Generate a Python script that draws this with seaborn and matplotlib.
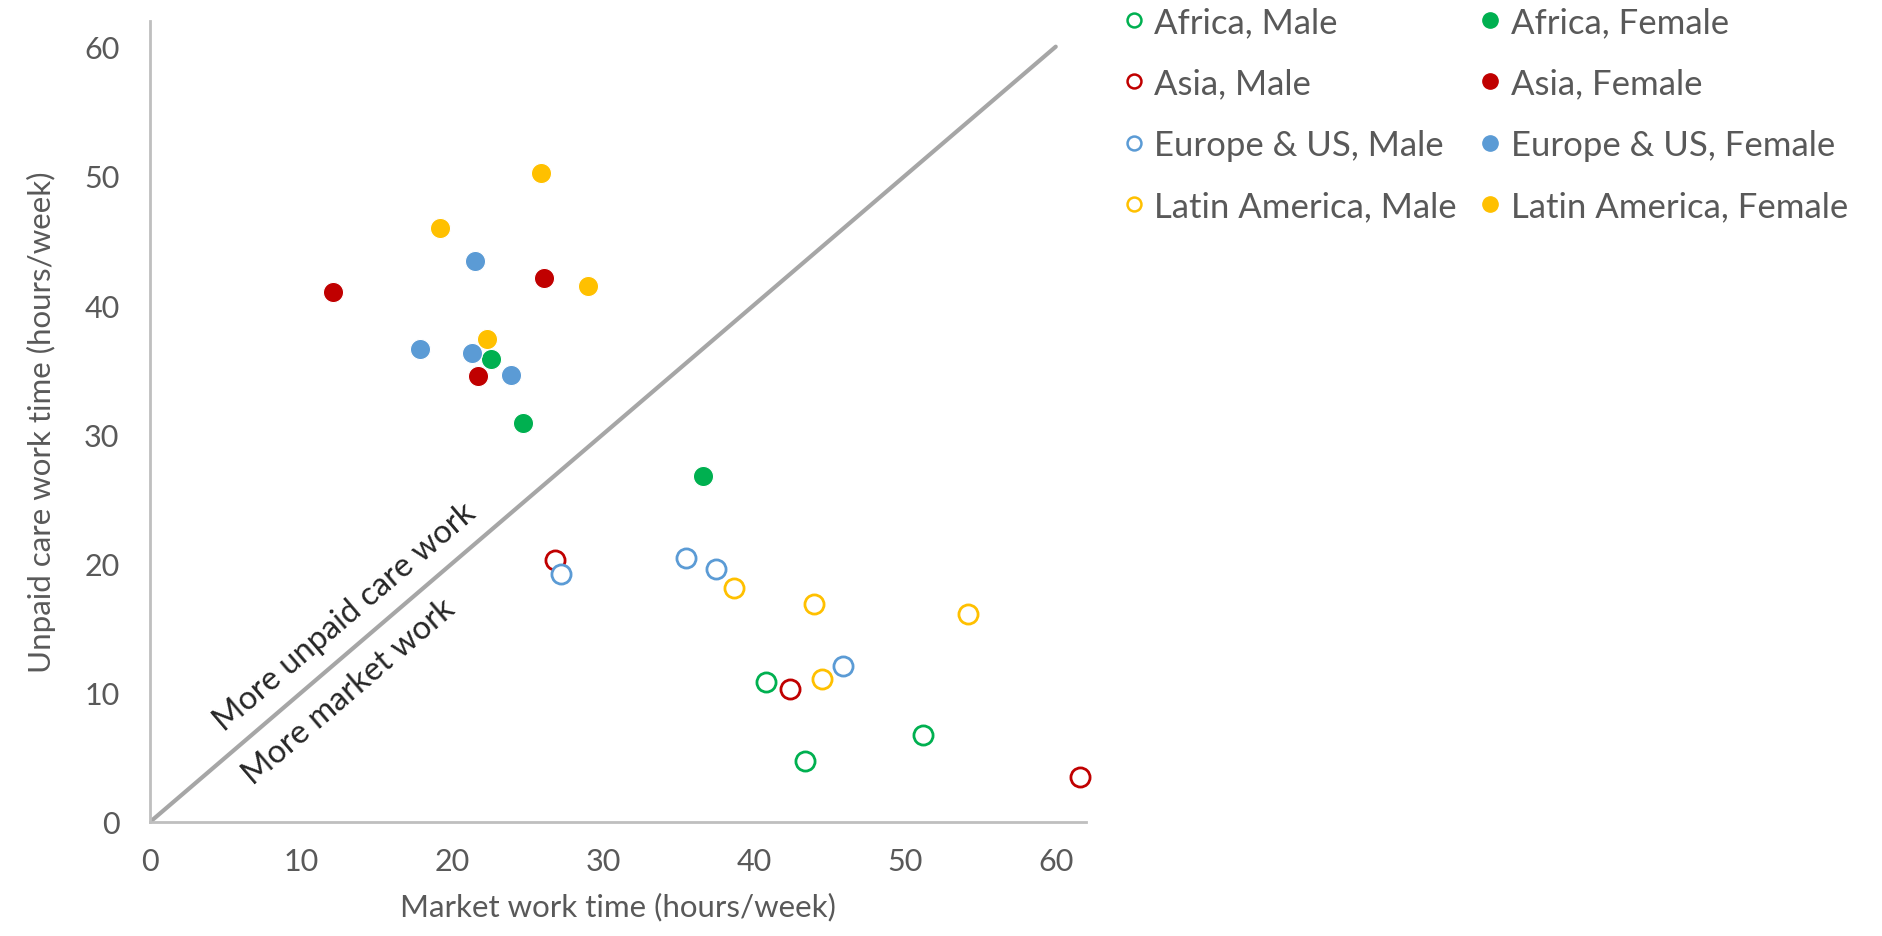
import matplotlib
matplotlib.use("Agg")
import matplotlib.pyplot as plt
import seaborn as sns
import pandas as pd
from matplotlib.lines import Line2D

# values (hours/week)
regions = ["Africa", "Asia", "Europe & US", "Latin America"]
colors = ["#00b050", "#c00000", "#5b9bd5", "#ffc000"]

africa_m_x = [40.8, 43.4, 51.2]
africa_m_y = [10.8, 4.7, 6.7]
africa_f_x = [22.6, 24.7, 36.6]
africa_f_y = [35.8, 30.9, 26.8]

asia_m_x = [26.8, 42.4, 61.6]
asia_m_y = [20.3, 10.3, 3.5]
asia_f_x = [12.1, 26.1, 21.7]
asia_f_y = [41.0, 42.1, 34.5]

europe_m_x = [27.2, 35.5, 37.5, 45.9]
europe_m_y = [19.2, 20.4, 19.6, 12.1]
europe_f_x = [21.5, 17.9, 21.3, 23.9]
europe_f_y = [43.4, 36.6, 36.3, 34.6]

latam_m_x = [38.7, 44.0, 44.5, 54.2]
latam_m_y = [18.1, 16.9, 11.1, 16.1]
latam_f_x = [25.9, 19.2, 29.0, 22.3]
latam_f_y = [50.2, 46.0, 41.5, 37.4]

x_ticks = [0, 10, 20, 30, 40, 50, 60]
y_ticks = [0, 10, 20, 30, 40, 50, 60]

groups = [
    ("Africa", "Male", africa_m_x, africa_m_y),
    ("Asia", "Male", asia_m_x, asia_m_y),
    ("Europe & US", "Male", europe_m_x, europe_m_y),
    ("Latin America", "Male", latam_m_x, latam_m_y),
    ("Africa", "Female", africa_f_x, africa_f_y),
    ("Asia", "Female", asia_f_x, asia_f_y),
    ("Europe & US", "Female", europe_f_x, europe_f_y),
    ("Latin America", "Female", latam_f_x, latam_f_y),
]

rows = []
for reg, sex, xs, ys in groups:
    for a, b in zip(xs, ys):
        rows.append({"region": reg, "sex": sex, "market": a, "care": b})
df = pd.DataFrame(rows)

sns.set_style("white")
plt.rcParams["font.family"] = ["Lato", "DejaVu Sans"]

fig = plt.figure(figsize=(18.83, 9.37), dpi=100)
ax = fig.add_axes([0.0797, 0.1217, 0.497, 0.855])

pal = dict(zip(regions, colors))

# diagonal reference line
ax.plot([0, 60], [0, 60], color="#a6a6a6", lw=3, zorder=1)

handles = []
for reg, sex, xs, ys in groups:
    sub = df[(df.region == reg) & (df.sex == sex)]
    c = pal[reg]
    if sex == "Female":
        sns.scatterplot(data=sub, x="market", y="care", ax=ax, s=210,
                        color=c, edgecolor="white", linewidth=0.8, zorder=3,
                        clip_on=False)
        handles.append(Line2D([], [], marker="o", ls="", markersize=11,
                              markerfacecolor=c, markeredgecolor=c,
                              label=f"{reg}, {sex}"))
    else:
        sns.scatterplot(data=sub, x="market", y="care", ax=ax, s=190,
                        color="white", edgecolor=c, linewidth=2.0, zorder=3,
                        clip_on=False)
        handles.append(Line2D([], [], marker="o", ls="", markersize=10,
                              markerfacecolor="white", markeredgecolor=c,
                              markeredgewidth=1.8, label=f"{reg}, {sex}"))

ax.set_xlim(0, 62)
ax.set_ylim(0, 62)
ax.set_xticks(x_ticks)
ax.set_yticks(y_ticks)
ax.tick_params(axis="both", length=0, labelsize=22, colors="#595959")
ax.tick_params(axis="x", pad=18)
ax.tick_params(axis="y", pad=22)
for side in ["top", "right"]:
    ax.spines[side].set_visible(False)
for side in ["left", "bottom"]:
    ax.spines[side].set_color("#bfbfbf")
    ax.spines[side].set_linewidth(2)

ax.set_xlabel("Market work time (hours/week)", fontsize=22.5, color="#595959", labelpad=12)
ax.set_ylabel("Unpaid care work time (hours/week)", fontsize=22.5, color="#595959", labelpad=20)

ax.text(12.9, 15.9, "More unpaid care work", rotation=40.5, fontsize=23.5,
        ha="center", va="center", rotation_mode="anchor")
ax.text(13.2, 10.1, "More market work", rotation=40.5, fontsize=23.5,
        ha="center", va="center", rotation_mode="anchor")

fig.legend(handles=handles, ncol=2, loc="upper left",
           bbox_to_anchor=(0.578, 1.026), frameon=False, fontsize=25,
           labelcolor="#595959", handletextpad=0.2, columnspacing=0.55,
           labelspacing=0.85, handlelength=0.8)

fig.savefig("out.png", dpi=100)
